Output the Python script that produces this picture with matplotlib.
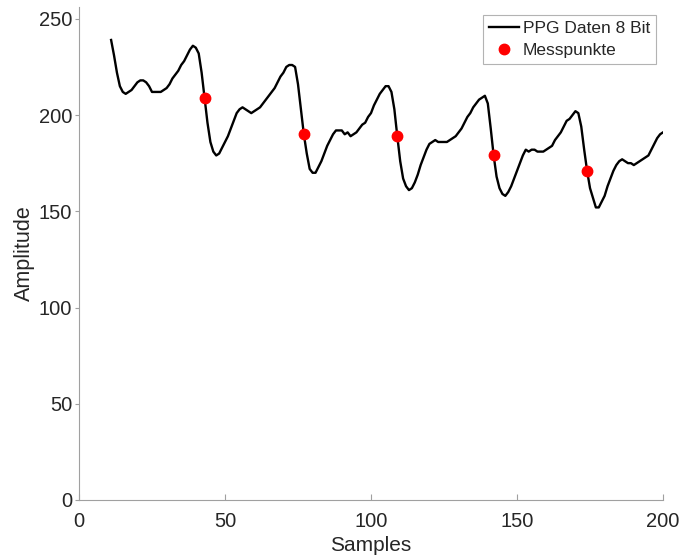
import numpy as np
import matplotlib
matplotlib.use('Agg')
import matplotlib.pyplot as plt

plt.rcParams['font.family'] = ['Liberation Sans', 'DejaVu Sans']

# PPG samples 11..200
samples = np.arange(11, 201)
ppg = [239, 231, 222, 215, 212, 211, 212, 213, 215, 217,
       218, 218, 217, 215, 212, 212, 212, 212, 213, 214,
       216, 219, 221, 223, 226, 228, 231, 234, 236, 235,
       232, 222, 209, 196, 186, 181, 179, 180, 183, 186,
       189, 193, 197, 201, 203, 204, 203, 202, 201, 202,
       203, 204, 206, 208, 210, 212, 214, 217, 220, 222,
       225, 226, 226, 225, 216, 203, 190, 180, 172, 170,
       170, 173, 176, 180, 184, 187, 190, 192, 192, 192,
       190, 191, 189, 190, 191, 193, 195, 196, 199, 201,
       205, 208, 211, 213, 215, 215, 212, 203, 189, 176,
       167, 163, 161, 162, 165, 169, 174, 178, 182, 185,
       186, 187, 186, 186, 186, 186, 187, 188, 189, 191,
       193, 196, 199, 201, 204, 206, 208, 209, 210, 206,
       193, 179, 168, 162, 159, 158, 160, 163, 167, 171,
       175, 179, 182, 181, 182, 182, 181, 181, 181, 182,
       183, 184, 187, 189, 191, 194, 197, 198, 200, 202,
       201, 194, 182, 171, 162, 157, 152, 152, 155, 158,
       163, 167, 171, 174, 176, 177, 176, 175, 175, 174,
       175, 176, 177, 178, 179, 182, 185, 188, 190, 191]

mess_x = [43, 77, 109, 142, 174]
mess_y = [209, 190, 189, 179, 171]

fig = plt.figure(figsize=(6.88, 5.58), dpi=100)
ax = fig.add_axes([0.1148, 0.104, 0.8489, 0.883])

ax.plot(samples, ppg, color='black', linewidth=1.7, label='PPG Daten 8 Bit')
ax.plot(mess_x, mess_y, 'o', color='red', markersize=7.5, label='Messpunkte')

ax.set_xlim(0, 200)
ax.set_ylim(0, 256)
ax.set_xticks([0, 50, 100, 150, 200])
ax.set_yticks([0, 50, 100, 150, 200, 250])

axcol = '#a0a0a0'
txtcol = '#262626'
for s in ['top', 'right']:
    ax.spines[s].set_visible(False)
for s in ['left', 'bottom']:
    ax.spines[s].set_color(axcol)
ax.tick_params(axis='x', direction='in', length=4, color=axcol, labelsize=14.5,
               labelcolor=txtcol, pad=9)
ax.tick_params(axis='y', direction='out', length=3, color=axcol, labelsize=14.5,
               labelcolor=txtcol, pad=2)

ax.set_xlabel('Samples', fontsize=15, color=txtcol, labelpad=3)
ax.set_ylabel('Amplitude', fontsize=15.5, color=txtcol, labelpad=3)

leg = ax.legend(loc='upper right', fontsize=12.5, frameon=True, fancybox=False,
                borderpad=0.35, handlelength=1.7, handletextpad=0.25, labelspacing=0.4,
                borderaxespad=0.0, bbox_to_anchor=(0.9885, 0.985))
leg.get_frame().set_edgecolor('#a0a0a0')
leg.get_frame().set_linewidth(0.8)
for t in leg.get_texts():
    t.set_color(txtcol)

fig.savefig('out.png', dpi=100)
